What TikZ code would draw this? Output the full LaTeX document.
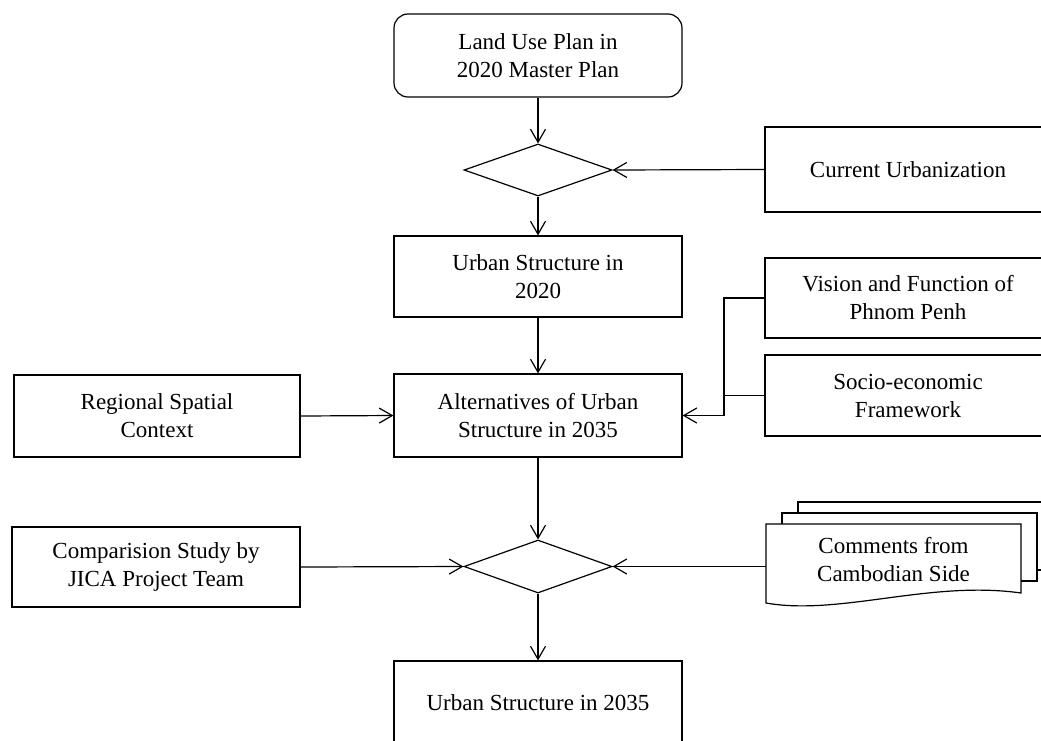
\documentclass[tikz,border=0pt]{standalone}
\usepackage{fontspec}
\setmainfont{Liberation Serif}
\usetikzlibrary{arrows.meta, shapes.geometric, positioning}

\begin{document}
\begin{tikzpicture}[x=1pt, y=-1pt, line width=1.2pt,
  >={Straight Barb[length=13pt, width=15pt]},
  every node/.style={font=\fontsize{23}{28}\selectfont, align=center},
  box/.style={draw, rectangle, minimum width=288pt, minimum height=82pt, inner sep=0pt},
  sidebox/.style={box, minimum width=286pt},
  decision/.style={draw, diamond, aspect=2.8, minimum width=148pt, minimum height=52pt, inner sep=0pt}]
  \useasboundingbox (0,0) rectangle (1041,740);
  \clip (0,0) rectangle (1041,740);
  % main column
  \node[box, rounded corners=14pt, minimum height=83pt] (land) at (538,55.5) {Land Use Plan in\\2020 Master Plan};
  \node[decision] (dec1) at (538,170) {};
  \node[box, minimum height=81pt] (us20) at (538,276.5) {Urban Structure in\\2020};
  \node[box, minimum height=83pt] (alt) at (538,415.5) {Alternatives of Urban\\Structure in 2035};
  \node[decision, minimum height=53pt] (dec2) at (538,566.5) {};
  \node[box, minimum height=84pt] (us35) at (538,703) {Urban Structure in 2035};
  % right side
  \node[sidebox, minimum height=85pt] (curb) at (908,169.5) {Current Urbanization};
  \node[sidebox, minimum height=80pt] (vision) at (908,298) {Vision and Function of\\Phnom Penh};
  \node[sidebox, minimum height=81pt] (socio) at (908,395.5) {Socio-economic\\Framework};
  % left side
  \node[sidebox, minimum height=82pt] (region) at (157,416) {Regional Spatial\\Context};
  \node[box, minimum height=80pt] (comp) at (156,567) {Comparision Study by\\JICA Project Team};
  % stacked documents
  \draw[fill=white] (798,502) rectangle (1060,570);
  \draw[fill=white] (782,513) rectangle (1037,581);
  \draw[fill=white] (766,524) -- (1021,524) -- (1021,593)
    .. controls (930,580) and (840,616) .. (766,603) -- cycle;
  \node (cmt) at (893.5,560) {Comments from\\Cambodian Side};
  \coordinate (cmtin) at (766,566.5);
  \coordinate (jn) at (724,415.5);
  % connectors
  \draw[->] (land.south) -- (dec1.north);
  \draw[->] (curb.west) -- (dec1.east);
  \draw[->] (dec1.south) -- (us20.north);
  \draw[->] (us20.south) -- (alt.north);
  \draw[->] (region.east) -- (alt.west);
  \draw[->] (vision.west) -| (jn) -- (alt.east);
  \draw (socio.west) -- (socio.west -| jn);
  \draw[->] (alt.south) -- (dec2.north);
  \draw[->] (comp.east) -- (dec2.west);
  \draw[->] (cmtin) -- (dec2.east);
  \draw[->] (dec2.south) -- (us35.north);
\end{tikzpicture}
\end{document}
